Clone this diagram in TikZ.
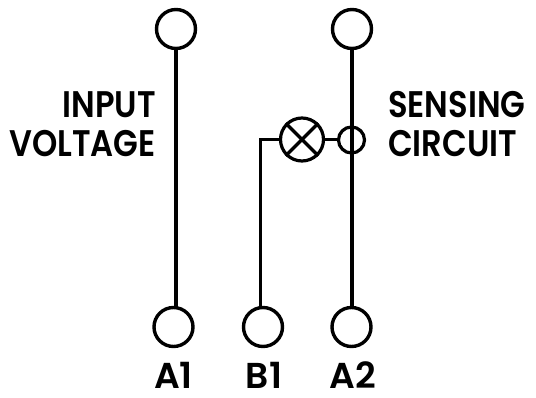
\documentclass[tikz,border=0pt]{standalone}
\usepackage{fontspec}
\setmainfont{Poppins}
\newfontfamily\lblfont[FakeStretch=0.87]{Poppins SemiBold}
\newfontfamily\pinfont{Poppins SemiBold}
\tikzset{
 term/.style={circle,draw=black,line width=3.4pt,minimum size=39pt,inner sep=0pt},
 lampc/.style={circle,draw=black,line width=3.2pt,inner sep=0pt},
 wire/.style={draw=black,line width=3.2pt},
 lbl/.style={inner sep=0pt,font=\lblfont\fontsize{37}{37}\selectfont,text=black},
 pin/.style={inner sep=0pt,font=\pinfont\fontsize{36}{36}\selectfont,text=black},
}
\begin{document}
\begin{tikzpicture}[x=1pt,y=-1pt]
\useasboundingbox (0,0) rectangle (536,398);
\node[term] (t1) at (176,29) {};
\node[term] (t2) at (352,29) {};
\node[term] (a1) at (173.5,327) {};
\node[term] (b1) at (263,327) {};
\node[term] (a2) at (351.5,327) {};
\node[lampc,minimum size=43pt] (lamp) at (302,139.5) {};
\node[lampc,minimum size=26pt] (sense) at (351.5,140) {};
\draw[wire] (t1.south) -- (t1.south |- a1.north);
\draw[wire] (t2.south) -- (t2.south |- a2.north);
\draw[wire] (lamp.west) -- (260.5,139.5) coordinate (bend) -- (bend |- b1.north);
\draw[wire] (lamp.east) -- (sense.west |- lamp.east);
\draw[wire] (lamp.north west) -- (lamp.south east);
\draw[wire] (lamp.north east) -- (lamp.south west);
\node[lbl,anchor=east] (n1) at (156,105) {INPUT};
\node[lbl,anchor=east] (n2) at (156,144) {VOLTAGE};
\node[lbl,anchor=west] (n3) at (388,105) {SENSING};
\node[lbl,anchor=west] (n4) at (388,144) {CIRCUIT};
\node[pin] (l1) at (173.5,375) {A1};
\node[pin] (l2) at (264,375) {B1};
\node[pin] (l3) at (353,375) {A2};
\end{tikzpicture}
\end{document}
